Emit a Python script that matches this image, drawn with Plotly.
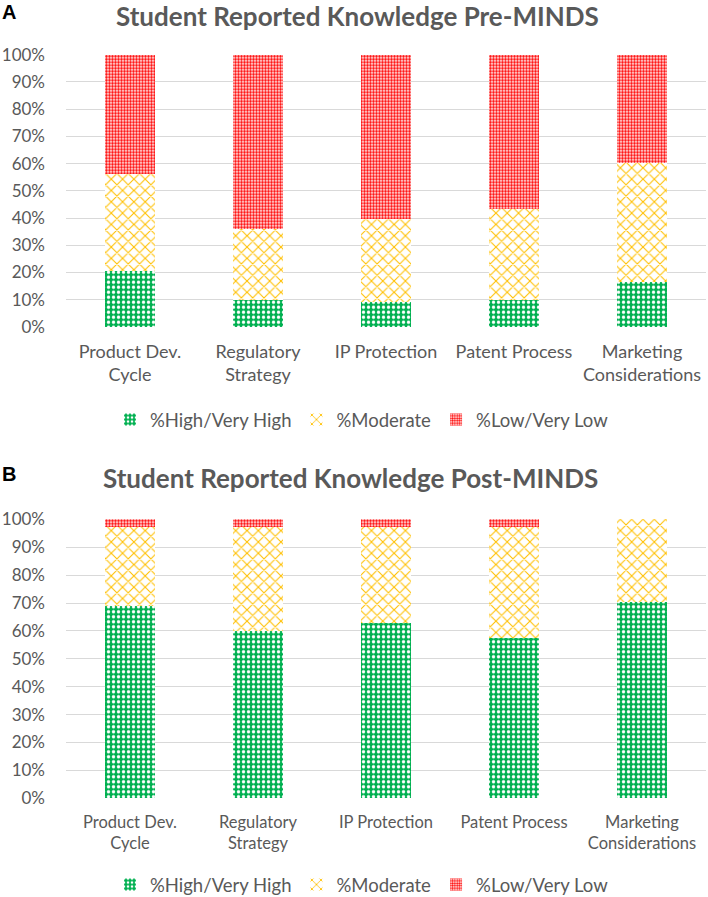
import plotly.graph_objects as go

categories = ["Product Dev.<br>Cycle", "Regulatory<br>Strategy", "IP Protection",
              "Patent Process", "Marketing<br>Considerations"]
series_names = ["%High/Very High", "%Moderate", "%Low/Very Low"]

pre_high = [20.6, 10.1, 9.2, 10.1, 16.5]
pre_mod = [35.5, 25.9, 30.6, 33.1, 43.6]
pre_low = [43.9, 64.0, 60.2, 56.8, 39.9]

post_high = [69.0, 60.0, 62.8, 57.5, 70.5]
post_mod = [28.1, 37.1, 34.3, 39.6, 29.5]
post_low = [2.9, 2.9, 2.9, 2.9, 0.0]

y_ticks = [0, 10, 20, 30, 40, 50, 60, 70, 80, 90, 100]
y_tick_text = ["0%", "10%", "20%", "30%", "40%", "50%", "60%", "70%", "80%", "90%", "100%"]

W, H = 708, 897
FONT = "Lato"
GRAY = "#595959"

patterns = [
    dict(shape=".", fgcolor="white", bgcolor="#00B050", size=5, solidity=0.35, fillmode="replace"),
    dict(shape="x", fgcolor="#FFC000", bgcolor="white", size=8, solidity=0.25, fillmode="replace"),
    dict(shape=".", fgcolor="#FF0000", bgcolor="white", size=3, solidity=0.55, fillmode="replace"),
]
colors = ["#00B050", "#FFC000", "#FF0000"]

fig = go.Figure()
for vals_set, xa, ya, lg in [((pre_high, pre_mod, pre_low), "x", "y", "legend"),
                             ((post_high, post_mod, post_low), "x2", "y2", "legend2")]:
    for name, vals, pat, col in zip(series_names, vals_set, patterns, colors):
        fig.add_trace(go.Bar(x=categories, y=vals, name=name, xaxis=xa, yaxis=ya,
                             legend=lg, marker=dict(color=col, pattern=pat, line=dict(width=0)),
                             hoverinfo="skip"))

def py(pix):
    return 1 - pix / H

xdom = [66 / W, 706 / W]

def xaxis_cfg(size, standoff):
    return dict(showgrid=False, showline=False, ticks="", automargin=False,
                tickfont=dict(family=FONT, size=size, color=GRAY), ticklabelstandoff=standoff)

yaxis_common = dict(range=[0, 100], tickvals=y_ticks, ticktext=y_tick_text, showgrid=True,
                    gridcolor="#D9D9D9", gridwidth=1, zeroline=False, showline=False, ticks="",
                    automargin=False,
                    tickfont=dict(family=FONT, size=17, color=GRAY), ticklabelstandoff=20)

legend_common = dict(orientation="h", xanchor="center", yanchor="middle",
                     font=dict(family=FONT, size=18.5, color=GRAY), traceorder="normal")

fig.update_layout(
    width=W, height=H, margin=dict(l=0, r=0, t=0, b=0, autoexpand=False),
    paper_bgcolor="white", plot_bgcolor="white",
    barmode="stack", bargap=0.61,
    xaxis=dict(domain=xdom, anchor="y", **xaxis_cfg(18, 12)),
    yaxis=dict(domain=[py(327), py(54.7)], anchor="x", **yaxis_common),
    xaxis2=dict(domain=xdom, anchor="y2", **xaxis_cfg(16.5, 12)),
    yaxis2=dict(domain=[py(798.3), py(519.3)], anchor="x2", **yaxis_common),
    legend=dict(x=362 / W, y=py(420), **legend_common),
    legend2=dict(x=362 / W, y=py(885), **legend_common),
    annotations=[
        dict(text="<b>Student Reported Knowledge Pre-MINDS</b>", x=357 / W, y=py(16),
             xref="paper", yref="paper", showarrow=False, xanchor="center", yanchor="middle",
             font=dict(family=FONT, size=26, color=GRAY)),
        dict(text="<b>Student Reported Knowledge Post-MINDS</b>", x=350 / W, y=py(478),
             xref="paper", yref="paper", showarrow=False, xanchor="center", yanchor="middle",
             font=dict(family=FONT, size=26, color=GRAY)),
        dict(text="<b>A</b>", x=0, y=py(12), xref="paper", yref="paper", showarrow=False,
             xanchor="left", yanchor="middle", font=dict(family="Liberation Sans", size=20, color="black")),
        dict(text="<b>B</b>", x=0, y=py(474), xref="paper", yref="paper", showarrow=False,
             xanchor="left", yanchor="middle", font=dict(family="Liberation Sans", size=20, color="black")),
    ],
)

fig.write_html("out.html", config={"displayModeBar": False},
               post_script="document.body.style.margin='0px';document.body.style.overflow='hidden';")
